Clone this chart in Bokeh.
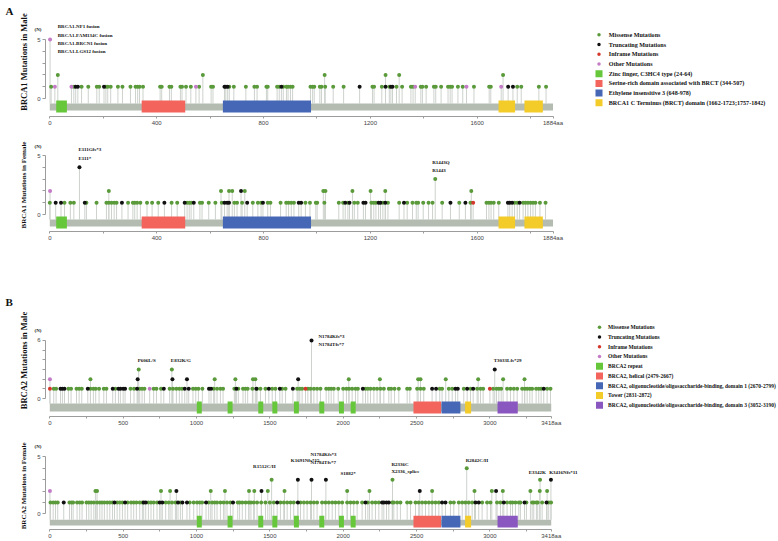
from math import pi
from bokeh.plotting import figure
from bokeh.models import Range1d, FixedTicker, Label
from bokeh.layouts import column
from bokeh.embed import file_html
from bokeh.resources import INLINE
from bokeh.core.properties import value

# ---------------- data ----------------
BRCA1_LEN = 1884
BRCA2_LEN = 3418

brca1_dom_start = [24, 344, 648, 1680, 1777]
brca1_dom_end = [64, 507, 978, 1742, 1846]
brca1_dom_kind = [0, 1, 2, 3, 3]
brca2_dom_start = [1002, 1212, 1421, 1517, 1664, 1837, 1971, 2051, 2479, 2670, 2831, 3052]
brca2_dom_end = [1036, 1246, 1455, 1551, 1698, 1871, 2005, 2085, 2667, 2799, 2872, 3190]
brca2_dom_kind = [0, 0, 0, 0, 0, 0, 0, 0, 1, 2, 3, 4]

mut_legend = ["Missense Mutations", "Truncating Mutations", "Inframe Mutations", "Other Mutations"]
brca1_dom_legend = ["Zinc finger, C3HC4 type (24-64)",
                    "Serine-rich domain associated with BRCT (344-507)",
                    "Ethylene insensitive 3 (648-978)",
                    "BRCA1 C Terminus (BRCT) domain (1662-1723;1757-1842)"]
brca2_dom_legend = ["BRCA2 repeat", "BRCA2, helical (2479-2667)",
                    "BRCA2, oligonucleotide/oligosaccharide-binding, domain 1 (2670-2799)",
                    "Tower (2831-2872)",
                    "BRCA2, oligonucleotide/oligosaccharide-binding, domain 3 (3052-3190)"]

# BRCA1 male
am_mis_1 = [5, 90, 119, 144, 176, 185, 210, 217, 228, 255, 272, 302, 321, 329, 336, 349, 413, 419, 448, 455,
            489, 495, 510, 528, 559, 604, 611, 672, 689, 734, 766, 776, 811, 816, 851, 859, 874, 886, 892, 901,
            909, 976, 984, 990, 1011, 1017, 1031, 1061, 1100, 1208, 1214, 1243, 1271, 1298, 1319, 1352, 1360,
            1389, 1395, 1409, 1438, 1445, 1465, 1491, 1499, 1506, 1528, 1546, 1588, 1645, 1651, 1750, 1765,
            1831, 1858]
am_mis_2 = [30, 573, 1029, 1257, 1308, 1697]
am_tru_1 = [97, 105, 203, 654, 659, 666, 867, 1160, 1257, 1277, 1283, 1716, 1734]
am_oth_1 = [19, 81, 547, 1368, 1560, 1690]
am_oth_5 = [1]

# BRCA1 female
af_mis_1 = [0, 55, 77, 90, 137, 175, 212, 221, 231, 241, 250, 293, 311, 318, 327, 339, 364, 383, 406, 456,
            477, 514, 522, 529, 562, 570, 595, 620, 644, 691, 701, 720, 760, 779, 791, 816, 826, 864, 885, 894,
            904, 914, 957, 974, 996, 1001, 1028, 1082, 1098, 1116, 1140, 1153, 1204, 1213, 1221, 1247, 1266,
            1308, 1338, 1358, 1372, 1379, 1398, 1418, 1433, 1469, 1533, 1575, 1635, 1644, 1652, 1662, 1681,
            1740, 1750, 1772, 1781, 1790, 1800, 1809, 1818, 1835, 1856]
af_mis_2 = [221, 641, 671, 683, 730, 1024, 1032, 1133, 1201, 1256, 1578]
af_mis_3 = [1443]
af_tru_1 = [22, 42, 131, 270, 429, 505, 539, 654, 664, 671, 739, 798, 932, 941, 1106, 1122, 1174, 1182,
            1231, 1238, 1256, 1326, 1500, 1556, 1715, 1722, 1731, 1759]
af_tru_2 = [716]
af_tru_4 = [111]
af_inf_1 = [1585]
af_oth_2 = [1]

# BRCA2 male
bm_mis_1 = [27, 43, 127, 145, 182, 200, 218, 277, 297, 313, 336, 368, 386, 447, 550, 574, 613, 629, 645, 708,
            727, 758, 817, 840, 863, 883, 901, 976, 995, 1013, 1040, 1117, 1140, 1163, 1181, 1258, 1285, 1317,
            1333, 1349, 1381, 1413, 1436, 1470, 1516, 1538, 1584, 1607, 1686, 1704, 1720, 1759, 1777, 1800,
            1822, 1845, 1884, 1902, 1918, 1936, 1966, 2000, 2022, 2040, 2061, 2084, 2100, 2152, 2168, 2186,
            2209, 2231, 2254, 2277, 2311, 2327, 2350, 2379, 2436, 2454, 2504, 2527, 2549, 2658, 2674, 2720,
            2743, 2822, 2868, 2913, 2936, 2954, 3022, 3045, 3061, 3077, 3117, 3140, 3163, 3186, 3220, 3238,
            3254, 3272, 3288, 3315, 3333, 3349, 3390, 3413]
bm_mis_2 = [277, 1124, 1265, 1385, 1401, 2038, 2250, 2511, 2527, 2699, 2920, 3090, 3236]
bm_mis_3 = [606, 832]
bm_tru_1 = [73, 86, 100, 259, 429, 468, 481, 500, 513, 595, 777, 920, 947, 1085, 1099, 1272, 1408, 1493,
            1568, 1657, 2134, 2606, 2633, 2765, 2781, 2845, 2886, 3367]
bm_tru_2 = [599, 836, 935, 1693]
bm_tru_3 = [3033]
bm_tru_6 = [1784]
bm_inf_1 = [1, 1743, 3000]
bm_oth_1 = [681]
bm_oth_2 = [1]

# BRCA2 female
bf_mis_1 = [5, 23, 39, 54, 134, 148, 159, 186, 204, 220, 250, 266, 282, 300, 322, 341, 356, 372, 391, 409,
            427, 459, 477, 495, 531, 554, 572, 590, 613, 631, 672, 690, 708, 731, 790, 811, 833, 856, 890, 954,
            981, 1004, 1022, 1038, 1083, 1106, 1124, 1140, 1163, 1185, 1208, 1231, 1281, 1294, 1312, 1335,
            1356, 1371, 1390, 1413, 1441, 1470, 1500, 1527, 1572, 1595, 1618, 1641, 1663, 1709, 1732, 1754,
            1777, 1800, 1822, 1856, 1879, 1902, 1925, 1947, 1970, 1993, 2027, 2050, 2072, 2095, 2129, 2168,
            2197, 2220, 2243, 2334, 2345, 2368, 2390, 2436, 2459, 2493, 2515, 2538, 2561, 2584, 2606, 2629,
            2652, 2731, 2754, 2788, 2811, 2833, 2856, 2879, 2947, 2981, 3004, 3049, 3072, 3117, 3140, 3154,
            3174, 3197, 3208, 3249, 3288, 3299, 3317, 3326, 3356, 3401, 3417]
bf_mis_2 = [311, 322, 758, 820, 1097, 1194, 1358, 1394, 1486, 1600, 2027, 2179, 2606, 2895, 3013, 3088,
            3276, 3340, 3390]
bf_mis_3 = [1512, 2336, 3342]
bf_mis_4 = [2842]
bf_tru_1 = [95, 441, 513, 640, 654, 749, 767, 874, 904, 935, 1065, 1249, 1550, 1691, 2152, 2265, 2277, 2295,
            2311, 2674, 2697, 2902, 2924, 3095, 3236, 3386]
bf_tru_2 = [863, 1443, 2522, 3042]
bf_tru_3 = [1691, 1784, 1882, 3416]
bf_oth_2 = [1]

# annotations: text, residue, count
am_ann = [("BRCA1-NF1 fusion", 1, 5), ("BRCA1-FAM134C fusion", 1, 5),
          ("BRCA1-BRCN1 fusion", 1, 5), ("BRCA1-LGS12 fusion", 1, 5)]
af_ann = [("E111Gfs*3", 111, 4), ("E111*", 111, 4), ("R1443Q", 1443, 3), ("R1443", 1443, 3)]
bm_ann = [("P606L/S", 606, 3), ("E832K/G", 832, 3), ("N1784Kfs*3", 1784, 6), ("N1784Tfs*7", 1784, 6),
          ("T3033Lfs*29", 3033, 3)]
bf_ann = [("R1512C/H", 1512, 3), ("K1691Nfs*15", 1691, 3), ("N1784Kfs*3", 1784, 3), ("N1784Tfs*7", 1784, 3),
          ("S1882*", 1882, 3), ("R2336C", 2336, 3), ("X2336_splice", 2336, 3), ("R2842C/H", 2842, 4),
          ("E3342K", 3342, 3), ("K3416Nfs*11", 3416, 3)]

# ---------------- style ----------------
SERIF = "Liberation Serif"
SANS = "Liberation Sans"
C_MIS = "#5a9a3a"
C_TRU = "#111111"
C_INF = "#d4382c"
C_OTH = "#c47cc6"
C_STEM = "#cdd2cd"
C_BACK = "#b4bcb2"
DOM1_COLORS = ["#66c73a", "#f2645c", "#4666b6", "#f3cc29"]
DOM2_COLORS = ["#66c73a", "#f2645c", "#4666b6", "#f3cc29", "#8a56c0"]
AXIS_C = "#9c9c9c"
TXT_C = "#111111"

X0 = 49.3     # page x of residue 0
YAX = 45      # page x of the y axis
W = 778


def make_panel(length, xs, canvas_top, height, frame_bottom, y0, ys, ymax,
               major, minor, dstart, dend, dkind, dcolors, bb_px, dom_px, muts, ann, ann_off,
               title, title_y, title_size, n_y, letter=None, letter_y=None, legend=None):
    p = figure(width=W, height=height, title=None,
               x_range=Range1d((0 - X0) / xs, (W - X0) / xs),
               y_range=Range1d((y0 - frame_bottom) / ys, (y0 - canvas_top) / ys),
               toolbar_location=None, output_backend="svg",
               min_border_left=0, min_border_right=0, min_border_top=0,
               min_border_bottom=canvas_top + height - frame_bottom)
    p.outline_line_color = None
    p.xgrid.visible = False
    p.ygrid.visible = False
    p.xaxis.ticker = FixedTicker(ticks=major + [length], minor_ticks=minor)
    p.xaxis.major_label_overrides = {length: f"{length}aa"}
    p.xaxis.bounds = (0, length)
    p.yaxis.ticker = FixedTicker(ticks=[0, ymax], minor_ticks=list(range(1, ymax)))
    p.yaxis.bounds = (0, ymax)
    p.yaxis.fixed_location = (YAX - X0) / xs
    for ax in (p.xaxis[0], p.yaxis[0]):
        ax.axis_line_color = AXIS_C
        ax.major_tick_line_color = AXIS_C
        ax.minor_tick_line_color = AXIS_C
        ax.major_tick_in = 0
        ax.minor_tick_in = 0
        ax.major_label_text_font = SANS
        ax.major_label_text_font_size = "6px"
        ax.major_label_text_color = "#444444"
    p.xaxis.major_tick_out = 2
    p.xaxis.minor_tick_out = 2
    p.xaxis.major_label_standoff = 1
    p.yaxis.major_tick_out = 3
    p.yaxis.minor_tick_out = 3
    p.yaxis.major_label_standoff = 2
    bb_top = -bb_px[0] / ys
    bb_bot = -bb_px[1] / ys
    # stems
    for pos, cnt, col in muts:
        p.segment(x0=pos, y0=[bb_top] * len(pos), x1=pos, y1=[cnt] * len(pos),
                  line_color=C_STEM, line_width=1)
    # backbone + domains
    p.quad(left=[0], right=[length], top=[bb_top], bottom=[bb_bot], fill_color=C_BACK, line_color=None)
    p.quad(left=dstart, right=dend, top=[-dom_px[0] / ys] * len(dstart),
           bottom=[-dom_px[1] / ys] * len(dstart),
           fill_color=[dcolors[k] for k in dkind], line_color=None)
    # heads
    for pos, cnt, col in muts:
        p.scatter(x=pos, y=[cnt] * len(pos), size=4, fill_color=col, line_color=None)
    # annotations
    for (txt, pos, cnt), (dx, dy) in zip(ann, ann_off):
        p.add_layout(Label(x=pos + dx / xs, y=cnt - dy / ys, text=txt, text_font=SERIF,
                           text_font_style="bold", text_font_size="5px", text_align="left",
                           text_baseline="middle", text_color=TXT_C))
    p.add_layout(Label(x=(37.5 - X0) / xs, y=(y0 - n_y) / ys, text="(N)", text_font=SERIF,
                       text_font_style="bold", text_font_size="5px", text_align="center",
                       text_baseline="middle", text_color=TXT_C))
    p.add_layout(Label(x=(23.5 - X0) / xs, y=(y0 - title_y) / ys, text=title, angle=pi / 2,
                       text_font=SERIF, text_font_style="bold", text_font_size=title_size,
                       text_align="center", text_baseline="middle", text_color=TXT_C))
    if letter:
        p.add_layout(Label(x=(5 - X0) / xs, y=(y0 - letter_y) / ys, text=letter, text_font=SERIF,
                           text_font_style="bold", text_font_size="11px", text_align="left",
                           text_baseline="middle", text_color=TXT_C))
    if legend:
        top, step, mx, tx, labels, colors, kinds, fsize = legend
        rows_y = [(y0 - (top + i * step)) / ys for i in range(len(labels))]
        for yy, c, k in zip(rows_y, colors, kinds):
            if k == "dot":
                p.scatter(x=[(mx - X0) / xs], y=[yy], size=3.5, fill_color=c, line_color=None)
            else:
                p.rect(x=[(mx - X0) / xs], y=[yy], width=7, height=7, width_units="screen",
                       height_units="screen", fill_color=c, line_color=None)
        p.text(x=[(tx - X0) / xs] * len(labels), y=rows_y, text=labels, text_font=value(SERIF),
               text_font_style="bold", text_font_size=fsize, text_baseline="middle",
               text_align="left", text_color=TXT_C)
    return p


# ---------------- panels ----------------
xsA = 0.2671
xsB = 0.1467
a_major = [0, 400, 800, 1200, 1600]
a_minor = [200, 600, 1000, 1400, 1800]
b_major = [0, 500, 1000, 1500, 2000, 2500, 3000]
b_minor = [250, 750, 1250, 1750, 2250, 2750, 3250]

am_muts = [(am_mis_1, 1, C_MIS), (am_mis_2, 2, C_MIS), (am_tru_1, 1, C_TRU),
           (am_oth_1, 1, C_OTH), (am_oth_5, 5, C_OTH)]
af_muts = [(af_mis_1, 1, C_MIS), (af_mis_2, 2, C_MIS), (af_mis_3, 3, C_MIS), (af_tru_1, 1, C_TRU),
           (af_tru_2, 2, C_TRU), (af_tru_4, 4, C_TRU), (af_inf_1, 1, C_INF), (af_oth_2, 2, C_OTH)]
bm_muts = [(bm_mis_1, 1, C_MIS), (bm_mis_2, 2, C_MIS), (bm_mis_3, 3, C_MIS), (bm_tru_1, 1, C_TRU),
           (bm_tru_2, 2, C_TRU), (bm_tru_3, 3, C_TRU), (bm_tru_6, 6, C_TRU), (bm_inf_1, 1, C_INF),
           (bm_oth_1, 1, C_OTH), (bm_oth_2, 2, C_OTH)]
bf_muts = [(bf_mis_1, 1, C_MIS), (bf_mis_2, 2, C_MIS), (bf_mis_3, 3, C_MIS), (bf_mis_4, 4, C_MIS),
           (bf_tru_1, 1, C_TRU), (bf_tru_2, 2, C_TRU), (bf_tru_3, 3, C_TRU), (bf_oth_2, 2, C_OTH)]

legA = (34.3, 9.72, 598.5, 608.3, mut_legend + brca1_dom_legend,
        [C_MIS, C_TRU, C_INF, C_OTH] + DOM1_COLORS,
        ["dot", "dot", "dot", "dot", "box", "box", "box", "box"], "6.1px")
legB = (326.7, 9.75, 599, 607.5, mut_legend + brca2_dom_legend,
        [C_MIS, C_TRU, C_INF, C_OTH] + DOM2_COLORS,
        ["dot", "dot", "dot", "dot", "box", "box", "box", "box", "box"], "5.5px")

pA1 = make_panel(BRCA1_LEN, xsA, 0, 130, 116, 98, 11.8, 5, a_major, a_minor,
                 brca1_dom_start, brca1_dom_end, brca1_dom_kind, DOM1_COLORS, (5, 12), (2, 14),
                 am_muts, am_ann, [(7.7, -13), (7.7, -4), (7.7, 4), (7.7, 12)],
                 "BRCA1 Mutations in Male", 61.5, "8.5px", 29, "A", 10, legA)
pA2 = make_panel(BRCA1_LEN, xsA, 130, 115, 231, 214, 11.8, 5, a_major, a_minor,
                 brca1_dom_start, brca1_dom_end, brca1_dom_kind, DOM1_COLORS, (5, 12), (2, 14),
                 af_muts, af_ann, [(-1, -18), (-1, -9), (-3, -17), (-3, -9)],
                 "BRCA1 Mutations in Female", 184.5, "7px", 146)
pB1 = make_panel(BRCA2_LEN, xsB, 245, 185, 416, 398, 9.67, 6, b_major, b_minor,
                 brca2_dom_start, brca2_dom_end, brca2_dom_kind, DOM2_COLORS, (5, 13), (3, 15),
                 bm_muts, bm_ann, [(-1, -9), (-1, -9), (7, -4), (7, 4), (-1, -9)],
                 "BRCA2 Mutations in Male", 360, "8.5px", 330, "B", 301, legB)
pB2 = make_panel(BRCA2_LEN, xsB, 430, 111, 531, 515, 11.6, 5, b_major, b_minor,
                 brca2_dom_start, brca2_dom_end, brca2_dom_kind, DOM2_COLORS, (6, 12), (2, 14),
                 bf_muts, bf_ann, [(-18.5, -13), (-7, -20), (-1, -26), (-1, -18), (14.7, -6),
                                   (-1, -16), (-1, -8), (-1, -8), (-11.4, -7), (-1.7, -7)],
                 "BRCA2 Mutations in Female", 486.5, "7px", 446)

layout = column(pA1, pA2, pB1, pB2)
open("out.html", "w").write(file_html(layout, INLINE))
